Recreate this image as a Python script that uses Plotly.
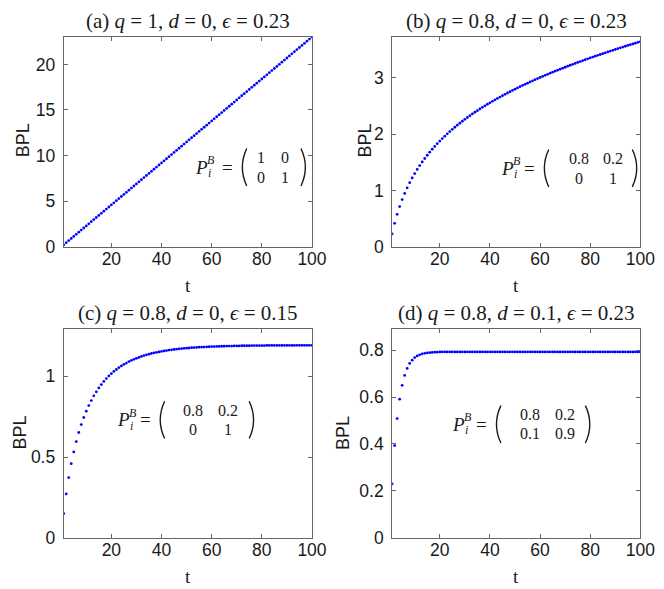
import plotly.graph_objects as go

# ---------------- data ----------------
t = list(range(1, 101))

bpl_a = [0.23, 0.46, 0.69, 0.92, 1.15, 1.38, 1.61, 1.84, 2.07, 2.3,
         2.53, 2.76, 2.99, 3.22, 3.45, 3.68, 3.91, 4.14, 4.37, 4.6,
         4.83, 5.06, 5.29, 5.52, 5.75, 5.98, 6.21, 6.44, 6.67, 6.9,
         7.13, 7.36, 7.59, 7.82, 8.05, 8.28, 8.51, 8.74, 8.97, 9.2,
         9.43, 9.66, 9.89, 10.12, 10.35, 10.58, 10.81, 11.04, 11.27, 11.5,
         11.73, 11.96, 12.19, 12.42, 12.65, 12.88, 13.11, 13.34, 13.57, 13.8,
         14.03, 14.26, 14.49, 14.72, 14.95, 15.18, 15.41, 15.64, 15.87, 16.1,
         16.33, 16.56, 16.79, 17.02, 17.25, 17.48, 17.71, 17.94, 18.17, 18.4,
         18.63, 18.86, 19.09, 19.32, 19.55, 19.78, 20.01, 20.24, 20.47, 20.7,
         20.93, 21.16, 21.39, 21.62, 21.85, 22.08, 22.31, 22.54, 22.77, 23.0]

bpl_b = [0.230, 0.418, 0.577, 0.715, 0.838, 0.947, 1.047, 1.138, 1.222, 1.300,
         1.372, 1.441, 1.505, 1.566, 1.624, 1.679, 1.731, 1.781, 1.829, 1.876,
         1.920, 1.963, 2.004, 2.044, 2.083, 2.120, 2.157, 2.192, 2.227, 2.260,
         2.293, 2.325, 2.356, 2.386, 2.415, 2.444, 2.473, 2.500, 2.528, 2.554,
         2.580, 2.606, 2.631, 2.656, 2.680, 2.704, 2.727, 2.750, 2.773, 2.795,
         2.817, 2.839, 2.861, 2.882, 2.902, 2.923, 2.943, 2.963, 2.983, 3.002,
         3.021, 3.040, 3.059, 3.078, 3.096, 3.114, 3.132, 3.150, 3.167, 3.184,
         3.202, 3.219, 3.235, 3.252, 3.269, 3.285, 3.301, 3.317, 3.333, 3.349,
         3.364, 3.380, 3.395, 3.410, 3.425, 3.440, 3.455, 3.470, 3.484, 3.499,
         3.513, 3.528, 3.542, 3.556, 3.570, 3.584, 3.597, 3.611, 3.625, 3.638]

bpl_c = [0.150, 0.272, 0.373, 0.459, 0.532, 0.596, 0.652, 0.701, 0.745, 0.784,
         0.819, 0.850, 0.879, 0.904, 0.928, 0.949, 0.968, 0.986, 1.002, 1.016,
         1.030, 1.042, 1.054, 1.064, 1.074, 1.082, 1.091, 1.098, 1.105, 1.111,
         1.117, 1.123, 1.128, 1.133, 1.137, 1.141, 1.145, 1.148, 1.151, 1.154,
         1.157, 1.159, 1.162, 1.164, 1.166, 1.168, 1.170, 1.171, 1.173, 1.174,
         1.175, 1.177, 1.178, 1.179, 1.180, 1.181, 1.181, 1.182, 1.183, 1.184,
         1.184, 1.185, 1.185, 1.186, 1.186, 1.187, 1.187, 1.187, 1.188, 1.188,
         1.188, 1.189, 1.189, 1.189, 1.189, 1.190, 1.190, 1.190, 1.190, 1.190,
         1.190, 1.191, 1.191, 1.191, 1.191, 1.191, 1.191, 1.191, 1.191, 1.191,
         1.191, 1.191, 1.191, 1.192, 1.192, 1.192, 1.192, 1.192, 1.192, 1.192]

bpl_d = [0.230, 0.393, 0.508, 0.591, 0.650, 0.692, 0.722, 0.743, 0.757, 0.768,
         0.775, 0.780, 0.784, 0.786, 0.788, 0.789, 0.790, 0.791, 0.791, 0.792,
         0.792, 0.792, 0.792, 0.792, 0.792, 0.792, 0.792, 0.792, 0.792, 0.792,
         0.792, 0.792, 0.792, 0.792, 0.792, 0.792, 0.792, 0.792, 0.792, 0.792,
         0.792, 0.792, 0.792, 0.792, 0.792, 0.792, 0.792, 0.792, 0.792, 0.792,
         0.792, 0.792, 0.792, 0.792, 0.792, 0.792, 0.792, 0.792, 0.792, 0.792,
         0.792, 0.792, 0.792, 0.792, 0.792, 0.792, 0.792, 0.792, 0.792, 0.792,
         0.792, 0.792, 0.792, 0.792, 0.792, 0.792, 0.792, 0.792, 0.792, 0.792,
         0.792, 0.792, 0.792, 0.792, 0.792, 0.792, 0.792, 0.792, 0.792, 0.792,
         0.792, 0.792, 0.792, 0.792, 0.792, 0.792, 0.792, 0.792, 0.792, 0.792]

titles = ["(a) <i>q</i> = 1, <i>d</i> = 0, <i>ϵ</i> = 0.23",
          "(b) <i>q</i> = 0.8, <i>d</i> = 0, <i>ϵ</i> = 0.23",
          "(c) <i>q</i> = 0.8, <i>d</i> = 0, <i>ϵ</i> = 0.15",
          "(d) <i>q</i> = 0.8, <i>d</i> = 0.1, <i>ϵ</i> = 0.23"]

matrices = [[["1", "0"], ["0", "1"]],
            [["0.8", "0.2"], ["0", "1"]],
            [["0.8", "0.2"], ["0", "1"]],
            [["0.8", "0.2"], ["0.1", "0.9"]]]

x_ticks = [20, 40, 60, 80, 100]
y_ticks = [[0, 5, 10, 15, 20], [0, 1, 2, 3], [0, 0.5, 1], [0, 0.2, 0.4, 0.6, 0.8]]
y_ranges = [[0, 23.0], [0, 3.72], [0, 1.293], [0, 0.89]]
series = [bpl_a, bpl_b, bpl_c, bpl_d]

# ---------------- layout helpers ----------------
W, H = 664, 589
def px(x):
    return x / W
def py(y):
    return 1 - y / H

# panel boxes in pixels: (left, right, top, bottom)
boxes = [(57, 311, 29.5, 243), (393, 647, 29.5, 243),
         (57, 311, 326.5, 539), (393, 647, 326.5, 539)]

AXC = "#666666"
TXT = "#1a1a1a"
SANS = "Liberation Sans, Arial, sans-serif"
SERIF = "Liberation Serif, DejaVu Serif, serif"

fig = go.Figure()
annotations = []
shapes = []

for i in range(4):
    l, r, tp, bt = boxes[i]
    xa = "xaxis" if i == 0 else f"xaxis{i+1}"
    ya = "yaxis" if i == 0 else f"yaxis{i+1}"
    xr = "x" if i == 0 else f"x{i+1}"
    yr = "y" if i == 0 else f"y{i+1}"
    fig.add_trace(go.Scatter(x=t, y=series[i], mode="markers", xaxis=xr, yaxis=yr,
                             marker=dict(color="#0000ff", size=2.8, line=dict(width=0)),
                             showlegend=False, hoverinfo="x+y"))
    common = dict(showline=True, linecolor=AXC, linewidth=1, mirror="ticks",
                  ticks="inside", ticklen=4, tickcolor=AXC, tickwidth=1,
                  showgrid=False, zeroline=False,
                  tickfont=dict(family=SANS, size=17.5, color=TXT))
    fig.layout[xa] = dict(domain=[px(l), px(r)], range=[1, 100], tickvals=x_ticks,
                          anchor=yr, ticklabelstandoff=-4, **common)
    fig.layout[ya] = dict(domain=[py(bt), py(tp)], range=y_ranges[i], tickvals=y_ticks[i],
                          anchor=xr, ticklabelstandoff=4, **common)
    cx = (l + r) / 2
    annotations.append(dict(text=titles[i], x=px(cx), y=py(tp - 16), xref="paper", yref="paper",
                            showarrow=False, font=dict(family=SERIF, size=21, color=TXT),
                            xanchor="center", yanchor="middle"))
    annotations.append(dict(text="t", x=px(cx), y=py(bt + 39), xref="paper", yref="paper",
                            showarrow=False, font=dict(family=SERIF, size=19, color=TXT),
                            xanchor="center", yanchor="middle"))

for (xx, yy) in [(15, 135), (365, 135), (12, 432), (342, 432)]:
    annotations.append(dict(text="BPL", x=px(xx), y=py(yy), xref="paper", yref="paper",
                            showarrow=False, textangle=-90,
                            font=dict(family=SANS, size=18, color=TXT),
                            xanchor="center", yanchor="middle"))

# matrix annotation pixel positions: (P, '=', '(', ')', col1, col2, row1, row2)
mat_pos = [(198, 225, 242, 302, 259, 283, 152, 172),
           (511, 534, 551, 641, 584, 619, 153, 173),
           (118, 141, 158, 249, 189, 225, 409, 429),
           (461, 484, 502, 593, 534, 570, 414, 433)]

def paren(xc, ym, h, left):
    w = 4.5
    top, bot = ym - h / 2, ym + h / 2
    if left:
        x_end, x_ctrl = xc + w / 2, xc - w * 1.5
    else:
        x_end, x_ctrl = xc - w / 2, xc + w * 1.5
    path = (f"M {px(x_end):.5f},{py(top):.5f} Q {px(x_ctrl):.5f},{py(ym):.5f} "
            f"{px(x_end):.5f},{py(bot):.5f}")
    return dict(type="path", path=path, xref="paper", yref="paper",
                line=dict(color=TXT, width=1.4))

for i in range(4):
    pp, eq, lp, rp, c1, c2, r1, r2 = mat_pos[i]
    ym = (r1 + r2) / 2
    annotations.append(dict(text="<i>P</i>", x=px(pp), y=py(ym), xref="paper", yref="paper",
                            showarrow=False, font=dict(family=SERIF, size=19, color=TXT),
                            xanchor="center", yanchor="middle"))
    annotations.append(dict(text="<i>B</i>", x=px(pp + 10), y=py(ym - 7), xref="paper", yref="paper",
                            showarrow=False, font=dict(family=SERIF, size=12, color=TXT),
                            xanchor="center", yanchor="middle"))
    annotations.append(dict(text="<i>i</i>", x=px(pp + 8), y=py(ym + 6), xref="paper", yref="paper",
                            showarrow=False, font=dict(family=SERIF, size=12, color=TXT),
                            xanchor="center", yanchor="middle"))
    annotations.append(dict(text="=", x=px(eq), y=py(ym), xref="paper", yref="paper",
                            showarrow=False, font=dict(family=SERIF, size=19, color=TXT),
                            xanchor="center", yanchor="middle"))
    shapes.append(paren(lp, ym, 38, True))
    shapes.append(paren(rp, ym, 38, False))
    m = matrices[i]
    for (rr, yy) in [(0, r1), (1, r2)]:
        for (cc, xx) in [(0, c1), (1, c2)]:
            annotations.append(dict(text=m[rr][cc], x=px(xx), y=py(yy), xref="paper", yref="paper",
                                    showarrow=False, font=dict(family=SERIF, size=16, color=TXT),
                                    xanchor="center", yanchor="middle"))

fig.update_layout(width=W, height=H, margin=dict(l=0, r=0, t=0, b=0),
                  paper_bgcolor="white", plot_bgcolor="white",
                  annotations=annotations, shapes=shapes, showlegend=False)

fig.write_html("out.html")
